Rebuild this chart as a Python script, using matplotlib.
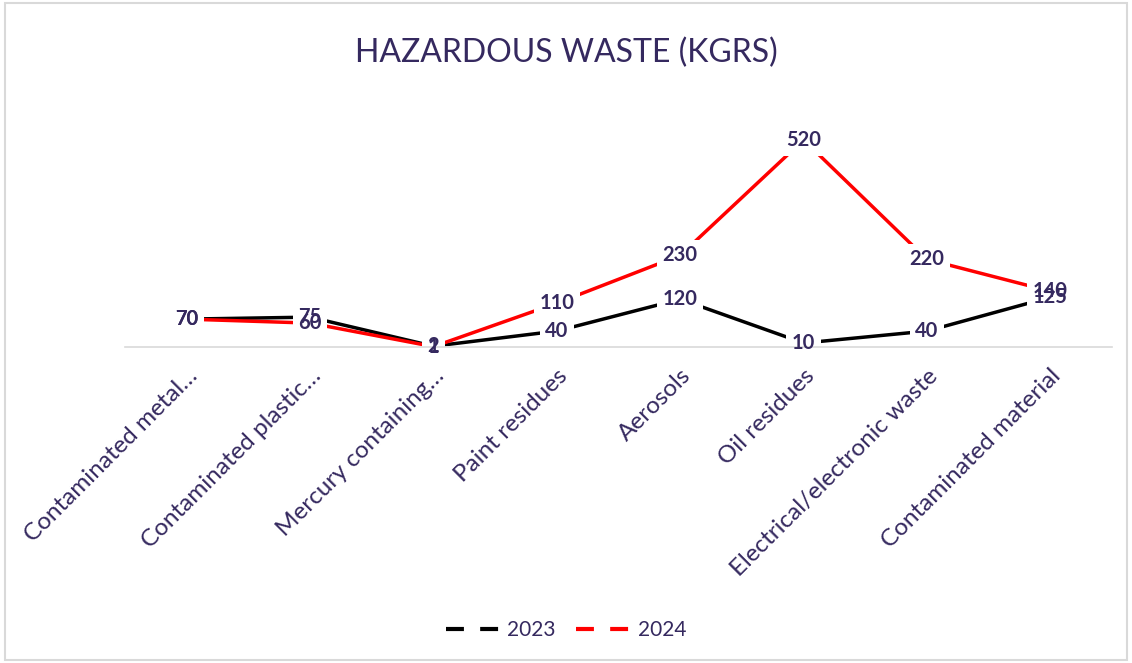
import matplotlib.pyplot as plt
from matplotlib.lines import Line2D
from matplotlib.patches import Rectangle

# data
categories = ["Contaminated metal…", "Contaminated plastic…", "Mercury containing…",
              "Paint residues", "Aerosols", "Oil residues",
              "Electrical/electronic waste", "Contaminated material"]
waste_2023 = [70, 75, 2, 40, 120, 10, 40, 125]
waste_2024 = [70, 60, 1, 110, 230, 520, 220, 140]

text_color = "#35295F"
plt.rcParams['font.family'] = ['Lato', 'DejaVu Sans']

fig = plt.figure(figsize=(11.32, 6.63), dpi=100)
# light border around the chart area
fig.patches.append(Rectangle((0.004, 0.004), 0.992, 0.992, transform=fig.transFigure,
                             fill=False, edgecolor="#d9d9d9", linewidth=1.5))

ax = fig.add_axes([125 / 1132, (663 - 347) / 663, (1112 - 125) / 1132, 239 / 663])
x = list(range(len(categories)))
ax.plot(x, waste_2023, color="black", linewidth=2.5, zorder=2)
ax.plot(x, waste_2024, color="#ff0000", linewidth=2.5, zorder=2)

# white patches behind labels, drawn on top of the lines
for xs, v in list(zip(x, waste_2023)) + list(zip(x, waste_2024)):
    ax.text(xs, v, str(v), ha="center", va="center", fontsize=14.5, fontweight="bold",
            color="white", zorder=2.5, clip_on=False,
            bbox=dict(facecolor="white", edgecolor="none", pad=4))

# data labels
for xs, v in zip(x, waste_2023):
    ax.text(xs, v, str(v), ha="center", va="center", fontsize=14.5, fontweight="bold",
            color=text_color, zorder=3, clip_on=False)
for xs, v in zip(x, waste_2024):
    ax.text(xs, v, str(v), ha="center", va="center", fontsize=14.5, fontweight="bold",
            color=text_color, zorder=4, clip_on=False)

ax.set_xlim(-0.5, len(categories) - 0.5)
ax.set_ylim(0, 600)
for s in ["top", "right", "left"]:
    ax.spines[s].set_visible(False)
ax.spines["bottom"].set_color("#d9d9d9")
ax.spines["bottom"].set_linewidth(1.2)
ax.set_yticks([])
ax.set_xticks(x)
ax.set_xticklabels(categories, rotation=45, ha="right", va="top", rotation_mode="anchor",
                   fontsize=17.5, color=text_color)
ax.tick_params(axis="x", length=0, pad=13)

fig.text(0.5, 0.92, "HAZARDOUS WASTE (KGRS)", ha="center", va="center",
         fontsize=23, color=text_color)

handles = [Line2D([], [], color="black", linewidth=3, linestyle=(0, (4.3, 3.9)),
                  dash_capstyle="butt"),
           Line2D([], [], color="#ff0000", linewidth=3, linestyle=(0, (4.3, 3.9)),
                  dash_capstyle="butt")]
fig.legend(handles, ["2023", "2024"], loc="center", bbox_to_anchor=(0.5, 0.05), ncol=2,
           frameon=False, fontsize=15, labelcolor=text_color, handlelength=2.7,
           columnspacing=1.0, handletextpad=0.25)

fig.savefig("out.png", dpi=100)
